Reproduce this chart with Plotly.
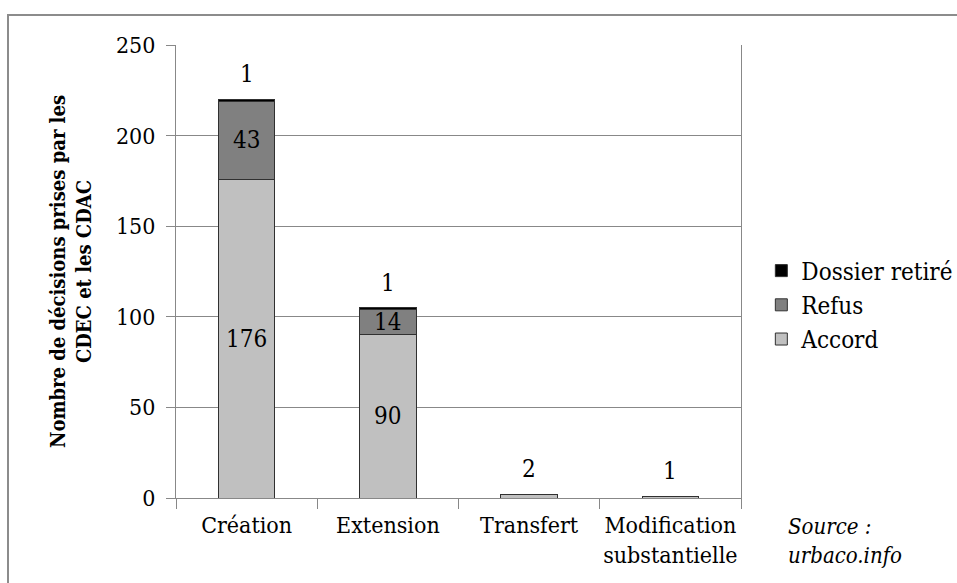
import plotly.graph_objects as go

categories = ["Création", "Extension", "Transfert", "Modification<br>substantielle"]
accord = [176, 90, 2, 1]
refus = [43, 14, 0, 0]
retire = [1, 1, 0, 0]

series = [
    ("Accord", accord, "#c0c0c0"),
    ("Refus", refus, "#808080"),
    ("Dossier retiré", retire, "#000000"),
]

FONT = "DejaVu Serif Condensed, DejaVu Serif"

L, T, PW, PH = 176, 45, 565, 453
W, H = 957, 583

fig = go.Figure()
for name, vals, col in series:
    fig.add_trace(go.Bar(
        x=categories, y=vals, name=name, legendgroup=name,
        marker=dict(color=col, line=dict(color="#303030", width=1)),
    ))

annotations = []
for i, cat in enumerate(categories):
    base = 0
    vals = [s[1][i] for s in series]
    top_idx = max([k for k, v in enumerate(vals) if v > 0])
    for k, (name, sv, col) in enumerate(series):
        v = sv[i]
        if v == 0:
            continue
        if k == top_idx and v < 5:
            annotations.append(dict(x=cat, y=base + v, text=str(v), showarrow=False,
                                    yanchor="bottom", yshift=9,
                                    font=dict(family=FONT, size=24, color="black")))
        else:
            annotations.append(dict(x=cat, y=base + v / 2, text=str(v), showarrow=False,
                                    yanchor="middle",
                                    font=dict(family=FONT, size=24, color="black")))
        base += v

annotations.append(dict(xref="paper", yref="paper", x=(786 - L) / PW, y=-0.03,
                        xanchor="left", yanchor="top",
                        text="<i>Source :<br>urbaco.info</i>", showarrow=False, align="left",
                        font=dict(family=FONT, size=22, color="black")))

fig.update_layout(
    barmode="stack",
    bargap=0.6,
    width=W, height=H,
    margin=dict(l=L, r=W - L - PW, t=T, b=H - T - PH, autoexpand=False),
    paper_bgcolor="white", plot_bgcolor="white",
    font=dict(family=FONT, color="black"),
    showlegend=True,
    legend=dict(x=1.036, y=0.426, xanchor="left", yanchor="middle", traceorder="reversed",
                font=dict(family=FONT, size=24, color="black"), itemwidth=30,
                tracegroupgap=11, bgcolor="rgba(0,0,0,0)"),
    annotations=annotations,
    shapes=[dict(type="rect", xref="paper", yref="paper",
                 x0=(8 - L) / PW, x1=(1000 - L) / PW,
                 y0=(498 - 640) / PH, y1=(498 - 15) / PH,
                 line=dict(color="#8c8c8c", width=2), layer="below")],
    xaxis=dict(showline=True, linecolor="#888888", linewidth=1, ticks="outside",
               tickson="boundaries", ticklen=10, tickcolor="#888888", tickangle=0,
               automargin=False, ticklabelstandoff=6,
               tickfont=dict(family=FONT, size=23, color="black"), showgrid=False),
    yaxis=dict(range=[0, 250], dtick=50, showline=True, linecolor="#888888", linewidth=1,
               mirror=True, ticks="outside", ticklen=9, tickcolor="#888888",
               gridcolor="#888888", gridwidth=1, automargin=False, ticklabelstandoff=6,
               tickfont=dict(family=FONT, size=23, color="black"),
               title=dict(text="<b>Nombre de décisions prises par les<br>CDEC et les CDAC</b>",
                          font=dict(family=FONT, size=20, color="black"), standoff=18)),
)

fig.write_html("out.html", config={"displayModeBar": False},
               post_script="document.body.style.margin='0';document.body.style.overflow='hidden';")
